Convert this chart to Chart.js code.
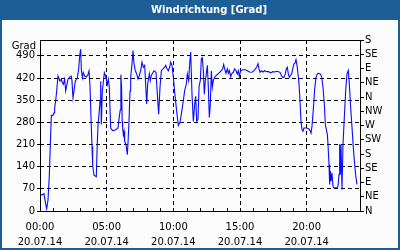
<!DOCTYPE html>
<html>
<head>
<meta charset="utf-8">
<script src="https://cdn.jsdelivr.net/npm/chart.js@4.4.0/dist/chart.umd.min.js"></script>
<style>
html,body{margin:0;padding:0;background:#fff;}
#wrap{width:400px;height:250px;position:relative;}
</style>
</head>
<body>
<div id="wrap"><canvas id="c" width="400" height="250"></canvas></div>
<script>
// Time of day in minutes since 00:00 (20.07.14)
const timesMin = [3,9,13.5,18,24,30,36,42,48,51,58.5,63,66,70.5,75,81,87,90,96,100.5,105,111,115.5,120,126,133.5,141,144,148.5,153,159,168,174,178.5,183,186,190.5,195,201,208.5,216,220.5,225,229.5,234,237,243,253.5,256.5,261,265.5,270,273,276,280.5,289.5,295.5,303,307.5,312,318,327,339,351,357,361.5,364,367,370,372,375,378,381,387,393,396,400.5,405,408,414,418.5,423,429,435,441,447,453,459,465,471,480,484.5,492,496.5,501,513,522,528,534,540,546,553.5,561,565.5,571.5,577.5,583.5,588,594,600,609,618,622.5,630,636,645,651,658.5,663,669,673.5,678,684,690,696,700.5,705,711,716,721.5,726,730.5,735,739.5,744,748.5,753,757.5,762,766.5,771,775.5,780,786,793.5,801,808.5,816,822,826.5,831,837,843,847.5,852,858,864,870,876,882,888,892.5,897,903,912,924,933,942,954,963,969,975,981,985.5,990,996,1003.5,1011,1020,1029,1038,1047,1056,1065,1074,1080,1086,1092,1098,1104,1108.5,1113,1117.5,1122,1126.5,1132.5,1137,1143,1147.5,1152,1156.5,1161,1165.5,1170,1174.5,1179,1183.5,1188,1200,1209,1215,1219.5,1224,1230,1236,1242,1248,1254,1261.5,1267.5,1273.5,1279.5,1284,1288.5,1293,1296,1300.5,1303.5,1306.5,1309.5,1314,1318.5,1323,1335,1341,1345.5,1348.5,1351.5,1354.5,1359,1363.5,1369.5,1375.5,1381.5,1387.5,1392,1398,1404,1410,1416,1422,1426.5];
// Wind direction in degrees (values above 360 wrap around)
const directionDeg = [52,50,53,55,29,7,34,113,241,302,302,310,326,347,379,426,416,410,416,405,400,416,379,394,416,423,426,410,357,379,410,421,448,490,511,448,421,437,426,423,431,442,394,294,204,145,113,108,187,273,304,347,410,273,379,437,426,400,416,389,262,254,256,262,299,320,430,391,283,262,241,252,220,210,178,215,283,379,421,465,507,465,443,433,417,428,443,470,454,460,338,401,433,412,428,443,438,369,306,391,443,449,454,460,449,443,454,470,460,422,354,296,270,280,306,349,380,401,433,412,465,502,369,283,336,362,283,290,395,412,481,484,443,369,412,433,460,391,295,338,443,391,412,422,428,433,438,443,449,463,449,435,449,435,443,424,435,438,449,443,433,443,424,443,446,446,443,439,438,443,449,454,465,449,438,443,439,443,440,440,436,440,439,441,440,438,428,422,422,433,449,454,433,422,428,433,449,465,467,478,460,433,401,349,283,257,252,262,262,260,254,246,268,320,385,422,433,435,433,424,390,338,274,257,242,211,147,84,126,94,120,78,73,73,78,115,211,115,211,68,211,295,380,433,444,401,327,264,200,147,105,84];
// Axis ticks
const degTicks = [0,70,140,210,280,350,420,490];
const compassLabels = ['N','NE','E','SE','S','SW','W','NW','N','NE','E','SE','S'];
const timeLabels = ['00:00','05:00','10:00','15:00','20:00'];
const dateLabel = '20.07.14';

const BLUE = '#1c5e95';
const FONT = {family: "'DejaVu Sans', sans-serif", size: 10};

const pts = timesMin.map((t, i) => ({x: t, y: directionDeg[i]}));

const framePlugin = {
  id: 'frame',
  beforeDraw(chart) {
    const ctx = chart.ctx;
    ctx.save();
    ctx.fillStyle = '#fbfcfb';
    ctx.fillRect(0, 0, 400, 250);
    ctx.fillStyle = BLUE;
    ctx.fillRect(0, 0, 400, 20);
    ctx.fillRect(0, 0, 2, 250);
    ctx.fillRect(398, 0, 2, 250);
    ctx.fillRect(0, 248, 400, 2);
    ctx.fillStyle = '#ffffff';
    ctx.font = "bold 10px 'DejaVu Sans', sans-serif";
    ctx.textAlign = 'center';
    ctx.textBaseline = 'middle';
    ctx.fillText('Windrichtung [Grad]', 209, 10.5);
    ctx.restore();
  },
  afterDraw(chart) {
    const ctx = chart.ctx;
    const a = chart.chartArea;
    const xs = chart.scales.x;
    ctx.save();
    ctx.strokeStyle = '#000';
    ctx.lineWidth = 1;
    ctx.setLineDash([]);
    ctx.strokeRect(Math.round(a.left) + 0.5, Math.round(a.top) + 0.5, Math.round(a.right - a.left), Math.round(a.bottom - a.top));
    ctx.beginPath();
    for (let h = 1; h < 24; h++) {
      if (h % 5 === 0) continue;
      const px = Math.round(xs.getPixelForValue(h * 60)) + 0.5;
      ctx.moveTo(px, Math.round(a.bottom));
      ctx.lineTo(px, Math.round(a.bottom) - 3);
    }
    ctx.stroke();
    ctx.fillStyle = '#000';
    ctx.font = "10px 'DejaVu Sans', sans-serif";
    ctx.textAlign = 'right';
    ctx.textBaseline = 'middle';
    ctx.fillText('Grad', 36, 46);
    ctx.restore();
  }
};

new Chart(document.getElementById('c'), {
  type: 'line',
  data: {
    datasets: [{
      data: pts,
      borderColor: '#0a0aff',
      borderWidth: 1.1,
      pointRadius: 0,
      tension: 0,
      fill: false
    }]
  },
  options: {
    responsive: false,
    animation: false,
    events: [],
    parsing: true,
    layout: {padding: {top: 40, left: 0, right: 0, bottom: 0}},
    plugins: {legend: {display: false}, title: {display: false}, tooltip: {enabled: false}},
    scales: {
      x: {
        type: 'linear', min: 0, max: 1440,
        afterFit(s) { s.height = 39; },
        afterBuildTicks(s) { s.ticks = Array.from({length: 25}, (_, i) => ({value: i * 60})); },
        ticks: {
          autoSkip: false, maxRotation: 0, minRotation: 0, padding: 9,
          color: '#000', font: {family: "'DejaVu Sans', sans-serif", size: 10, lineHeight: 1.5},
          callback(v) {
            const h = v / 60;
            if (h % 5 === 0 && h < 24) return [timeLabels[h / 5], dateLabel];
            return '';
          }
        },
        grid: {
          drawTicks: false,
          color(c) { const v = c.tick && c.tick.value; return (v > 0 && v < 1440 && v % 300 === 0) ? '#000' : 'rgba(0,0,0,0)'; },
          lineWidth: 1
        },
        border: {display: false, dash: [4, 3]}
      },
      y: {
        type: 'linear', position: 'left', min: 0, max: 540,
        afterFit(s) { s.width = 40; },
        afterBuildTicks(s) { s.ticks = degTicks.map(v => ({value: v})); },
        ticks: {autoSkip: false, color: '#000', font: FONT, padding: 2, callback: v => String(v)},
        grid: {
          color(c) { const v = c.tick && c.tick.value; return v > 0 ? '#000' : 'rgba(0,0,0,0)'; },
          tickColor: '#000', tickLength: 3, tickBorderDash: [], lineWidth: 1
        },
        border: {display: false, dash: [4, 3]}
      },
      y2: {
        type: 'linear', position: 'right', min: 0, max: 540,
        afterFit(s) { s.width = 40; },
        afterBuildTicks(s) { s.ticks = compassLabels.map((_, i) => ({value: i * 45})); },
        ticks: {autoSkip: false, color: '#000', font: FONT, padding: 1, callback: v => compassLabels[Math.round(v / 45)]},
        grid: {drawOnChartArea: false, tickColor: '#000', tickLength: 4, color: '#000'},
        border: {display: false}
      }
    }
  },
  plugins: [framePlugin]
});
</script>
</body>
</html>
